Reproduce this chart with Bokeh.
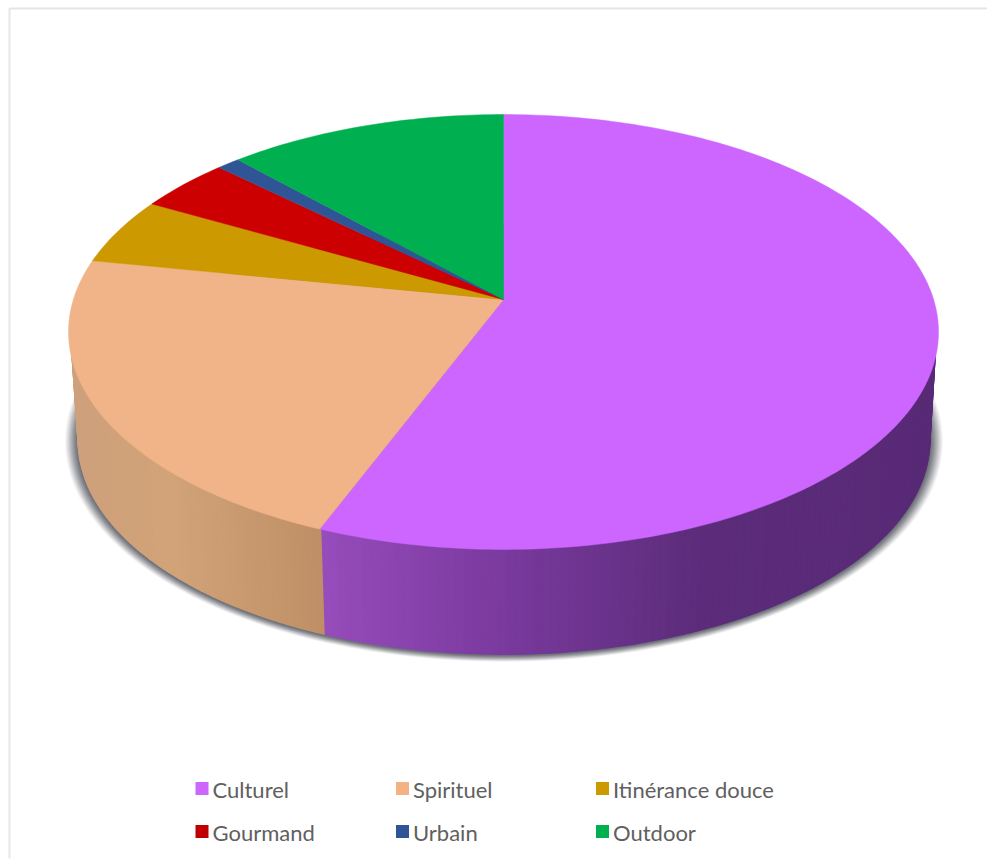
from math import sin, cos, pi

from bokeh.core.properties import value
from bokeh.embed import file_html
from bokeh.models import ColumnDataSource, Range1d
from bokeh.plotting import figure
from bokeh.resources import INLINE

categories = ["Culturel", "Spirituel", "Itinérance douce", "Gourmand", "Urbain", "Outdoor"]
shares = [56, 22, 5, 4, 1, 12]
top_colors = ["#CC66FF", "#F0B488", "#CC9900", "#CC0000", "#2F5597", "#00B050"]
swatch_colors = ["#CC66FF", "#F4B183", "#CC9900", "#C00000", "#2F5597", "#00B050"]

WIDTH, HEIGHT = 987, 862

# Tilted disc: the rim is an ellipse and the pie's centre sits above the ellipse's middle.
TILT = 0.1494
TOP_FACE = dict(apex_x=503.0, apex_y=299.0, a=430.1, b=212.6)
# The wall starts just inside the top rim so that its strokes stay hidden under the top face.
WALL_TOP = dict(apex_x=503.0, apex_y=299.0, a=428.0, b=211.0)
BASE_FACE = dict(apex_x=503.5, apex_y=408.0, a=421.0, b=209.0)


def project(theta, face):
    """Map a clockwise-from-north angle on the disc to page coordinates."""
    u, v = sin(theta), cos(theta)
    w = 1 + TILT * v
    return face["apex_x"] + face["a"] * u / w, face["apex_y"] - face["b"] * v / w


def mix(stops, x):
    """Colour at page position x along (position, rgb) stops."""
    if x <= stops[0][0]:
        rgb = stops[0][1]
    elif x >= stops[-1][0]:
        rgb = stops[-1][1]
    else:
        for (x0, c0), (x1, c1) in zip(stops, stops[1:]):
            if x0 <= x <= x1:
                t = (x - x0) / (x1 - x0)
                rgb = tuple(a + (b - a) * t for a, b in zip(c0, c1))
                break
    return "#%02x%02x%02x" % tuple(int(round(c)) for c in rgb)


wall_shades = {
    "Culturel": [(325, (150, 76, 186)), (500, (122, 58, 158)), (700, (92, 44, 122)), (940, (88, 42, 118))],
    "Spirituel": [(70, (206, 160, 124)), (170, (210, 163, 120)), (325, (190, 142, 102))],
}

p = figure(width=WIDTH, height=HEIGHT, output_backend="svg", toolbar_location=None,
           x_range=Range1d(0, WIDTH), y_range=Range1d(HEIGHT, 0),
           min_border=0, outline_line_color=None, background_fill_color="white",
           border_fill_color="white")
p.axis.visible = False
p.grid.visible = False

# Frame around the chart area
p.line([9, 9, WIDTH], [HEIGHT - 4, 8, 8], line_color="#e6e6e6", line_width=2)

# Angular extent of each slice, clockwise from north
edges = [0.0]
for s in shares:
    edges.append(edges[-1] + s / sum(shares) * 2 * pi)

# Soft drop shadow under the disc, wider at the sides than below
rim = [2 * pi * i / 240 for i in range(240)]
for grow in range(12, 0, -1):
    xs, ys = [], []
    for th in rim:
        x, y = project(th, BASE_FACE)
        xs.append(503.5 + (x - 503.5) * (1 + grow * 1.1 / 427))
        ys.append(441 + (y - 441) * (1 + grow * 0.55 / 214) + 1)
    p.patch(xs, ys, fill_color="#4a5058", fill_alpha=0.055 + 0.012 * (12 - grow), line_color=None)

# Side wall, built from narrow strips so its shade can drift with position
for name, start, stop in ((categories[0], 1.2, edges[1]), (categories[1], edges[1], edges[2])):
    steps = int((stop - start) / (pi / 180)) + 1
    for i in range(steps):
        a0 = start + (stop - start) * i / steps
        a1 = start + (stop - start) * (i + 1) / steps
        x0, y0 = project(a0, WALL_TOP)
        x1, y1 = project(a1, WALL_TOP)
        x2, y2 = project(a1, BASE_FACE)
        x3, y3 = project(a0, BASE_FACE)
        shade = mix(wall_shades[name], (x0 + x1 + x2 + x3) / 4)
        p.patch([x0, x1, x2, x3], [y0, y1, y2, y3], fill_color=shade,
                line_color=shade, line_width=1.4)

# Top face
for color, start, stop in zip(top_colors, edges, edges[1:]):
    steps = max(int((stop - start) / (pi / 180)), 4)
    outline = [project(start + (stop - start) * i / steps, TOP_FACE) for i in range(steps + 1)]
    xs = [TOP_FACE["apex_x"]] + [pt[0] for pt in outline]
    ys = [TOP_FACE["apex_y"]] + [pt[1] for pt in outline]
    p.patch(xs, ys, fill_color=color, line_color=color, line_width=0.5)

# Legend, three columns by two rows
legend_x = [201.5, 402, 602, 201.5, 402, 602]
legend_y = [788, 788, 788, 831, 831, 831]
legend = ColumnDataSource(dict(x=legend_x, y=legend_y, name=categories, color=swatch_colors,
                               tx=[x + 10.5 for x in legend_x],
                               ty=[y + 1 for y in legend_y]))
p.rect("x", "y", width=13, height=13, source=legend, fill_color="color", line_color=None,
       width_units="screen", height_units="screen")
p.text("tx", "ty", text="name", source=legend, text_font=value("Lato"), text_font_size="22px",
       text_color="#606060", text_baseline="middle", text_align="left")

open("out.html", "w").write(file_html(p, INLINE))
